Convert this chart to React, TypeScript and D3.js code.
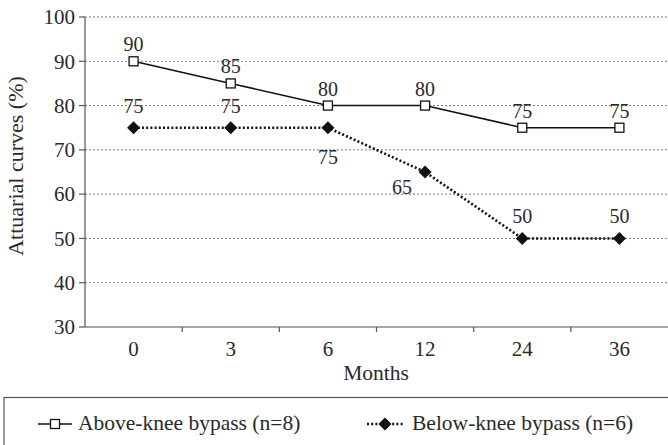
import React from "react";
import * as d3 from "d3";

const months = ["0", "3", "6", "12", "24", "36"];
const aboveKnee = [90, 85, 80, 80, 75, 75];
const belowKnee = [75, 75, 75, 65, 50, 50];
const yTicks = [30, 40, 50, 60, 70, 80, 90, 100];
const aboveLabel = "Above-knee bypass (n=8)";
const belowLabel = "Below-knee bypass (n=6)";
// label placement: "a" above, "b" below, "bl" below-left
const belowPlacement = ["a", "a", "b", "bl", "a", "a"];

const W = 668;
const H = 445;
const left = 85;
const right = 668;
const top = 17;
const bottom = 327;
const font = "'Liberation Serif', 'Times New Roman', serif";
const ink = "#2a2a2a";

export default function App() {
  const x = d3.scaleBand<string>().domain(months).range([left, right]).padding(0);
  const y = d3.scaleLinear().domain([30, 100]).range([bottom, top]);
  const cx = (m: string) => (x(m) as number) + x.bandwidth() / 2;

  const line = d3
    .line<number>()
    .x((_, i) => cx(months[i]))
    .y((d) => y(d));

  const sep = months.slice(1).map((m) => x(m) as number);

  const diamond = (px: number, py: number, r: number) =>
    `M${px},${py - r}L${px + r},${py}L${px},${py + r}L${px - r},${py}Z`;

  return (
    <div style={{ position: "absolute", left: 0, top: 0 }}>
      <svg width={W} height={H} style={{ display: "block", background: "#fff" }}>
        {/* gridlines */}
        {yTicks.filter((t) => t > 30).map((t) => (
          <line key={"g" + t} x1={left} x2={right} y1={y(t)} y2={y(t)}
            stroke="#777" strokeWidth={1} strokeDasharray="2,2" />
        ))}
        {/* y axis */}
        <line x1={left} x2={left} y1={top} y2={bottom} stroke="#555" strokeWidth={1.2} />
        {yTicks.map((t) => (
          <g key={"yt" + t}>
            <line x1={left - 6} x2={left} y1={y(t)} y2={y(t)} stroke="#555" strokeWidth={1.2} />
            <text x={left - 10} y={y(t)} dy="0.35em" textAnchor="end"
              fontFamily={font} fontSize={21} fill={ink}>{t}</text>
          </g>
        ))}
        {/* x axis */}
        <line x1={left} x2={right} y1={bottom} y2={bottom} stroke="#555" strokeWidth={1.2} />
        {sep.map((s, i) => (
          <line key={"xs" + i} x1={s} x2={s} y1={bottom} y2={bottom + 5} stroke="#555" strokeWidth={1.2} />
        ))}
        {months.map((m) => (
          <text key={"xl" + m} x={cx(m)} y={bottom + 29} textAnchor="middle"
            fontFamily={font} fontSize={21} fill={ink}>{m}</text>
        ))}
        <text x={376} y={380} textAnchor="middle" fontFamily={font} fontSize={21.5} fill={ink}>Months</text>
        <text transform={`translate(23,166) rotate(-90)`} textAnchor="middle"
          fontFamily={font} fontSize={22} fill={ink}>Attuarial curves (%)</text>

        {/* below-knee series */}
        <path d={line(belowKnee) || ""} fill="none" stroke="#111" strokeWidth={2.6} strokeDasharray="2,2.2" />
        {belowKnee.map((v, i) => (
          <path key={"bd" + i} d={diamond(cx(months[i]), y(v), 6.5)} fill="#111" />
        ))}
        {belowKnee.map((v, i) => {
          const p = belowPlacement[i];
          const px = cx(months[i]) + (p === "bl" ? -23 : 0);
          const py = y(v) + (p === "a" ? -22 : p === "b" ? 29 : 15);
          return (
            <text key={"bl" + i} x={px} y={py} dy="0.35em" textAnchor="middle"
              fontFamily={font} fontSize={20} fill={ink}>{v}</text>
          );
        })}

        {/* above-knee series */}
        <path d={line(aboveKnee) || ""} fill="none" stroke="#111" strokeWidth={1.6} />
        {aboveKnee.map((v, i) => (
          <rect key={"as" + i} x={cx(months[i]) - 4.5} y={y(v) - 4.5} width={9} height={9}
            fill="#fff" stroke="#111" strokeWidth={1.3} />
        ))}
        {aboveKnee.map((v, i) => (
          <text key={"al" + i} x={cx(months[i])} y={y(v) - 17} dy="0.35em" textAnchor="middle"
            fontFamily={font} fontSize={20} fill={ink}>{v}</text>
        ))}

        {/* legend */}
        <rect x={4} y={397.5} width={680} height={70} fill="none" stroke="#555" strokeWidth={1.2} />
        <line x1={38} x2={72} y1={424} y2={424} stroke="#111" strokeWidth={1.6} />
        <rect x={50.5} y={419.5} width={9} height={9} fill="#fff" stroke="#111" strokeWidth={1.3} />
        <text x={78} y={430} fontFamily={font} fontSize={21.5} fill={ink}>{aboveLabel}</text>
        <line x1={367} x2={403} y1={424} y2={424} stroke="#111" strokeWidth={2.6} strokeDasharray="2,2.2" />
        <path d={diamond(385, 424, 6.5)} fill="#111" />
        <text x={412} y={430} fontFamily={font} fontSize={21.5} fill={ink}>{belowLabel}</text>
      </svg>
    </div>
  );
}
